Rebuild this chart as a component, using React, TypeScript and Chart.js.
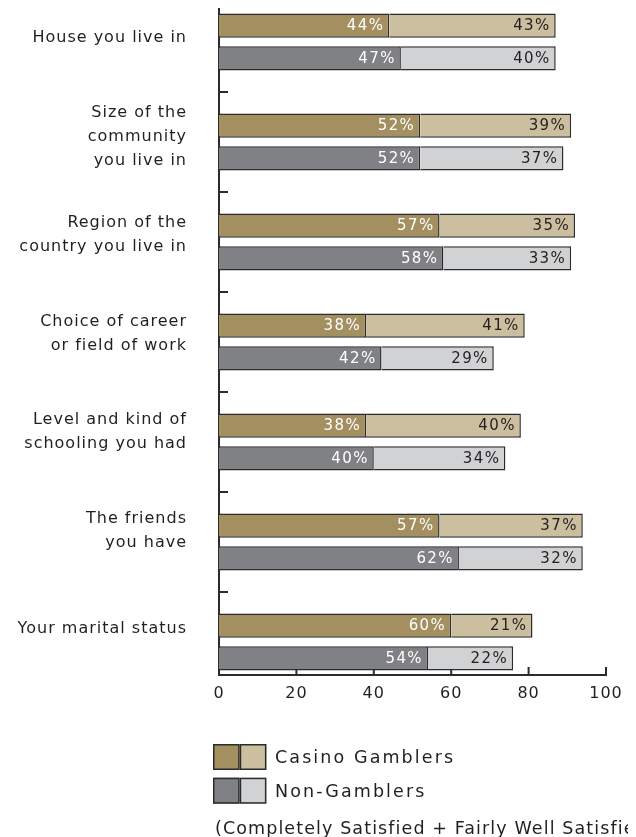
import React, { useEffect, useRef } from "react";
import { Chart, registerables } from "chart.js";

Chart.register(...registerables);

// ---------- data ----------
const CATEGORIES: string[][] = [
  ["House you live in"],
  ["Size of the", "community", "you live in"],
  ["Region of the", "country you live in"],
  ["Choice of career", "or field of work"],
  ["Level and kind of", "schooling you had"],
  ["The friends", "you have"],
  ["Your marital status"],
];
const CASINO_COMPLETELY = [44, 52, 57, 38, 38, 57, 60];
const CASINO_FAIRLY = [43, 39, 35, 41, 40, 37, 21];
const NON_COMPLETELY = [47, 52, 58, 42, 40, 62, 54];
const NON_FAIRLY = [40, 37, 33, 29, 34, 32, 22];
const X_TICKS = [0, 20, 40, 60, 80, 100];
const SERIES_NAMES = ["Casino Gamblers", "Non-Gamblers"];
const CAPTION = "(Completely Satisfied + Fairly Well Satisfied)";

// ---------- styles ----------
const FONT = '"DejaVu Sans", "Liberation Sans", Arial, sans-serif';
const TEXT = "#231f20";
const EDGE = "#2b2b2b";
const CASINO_DARK = "#a38f60";
const CASINO_LIGHT = "#cbbf9f";
const NON_DARK = "#808184";
const NON_LIGHT = "#d1d2d4";

export default function App() {
  const ref = useRef<HTMLCanvasElement>(null);

  useEffect(() => {
    const canvas = ref.current;
    if (!canvas) return;

    const mk = (label: string, values: number[], stack: string, bg: string, textColor: string) => ({
      label,
      stack,
      values,
      textColor,
      data: values.map((v, i) => ({ x: v, y: i })),
      backgroundColor: bg,
      borderColor: EDGE,
      borderWidth: 1.5,
      borderSkipped: "start",
      categoryPercentage: 0.667,
      barPercentage: 0.735,
    });

    const labelPos = CATEGORIES.map((_, i) => i * 0.985 - 0.04);

    const spacingPlugin = {
      id: "spacing",
      beforeDraw(chart: any) {
        chart.ctx.letterSpacing = "1px";
      },
    };

    const innerTicks = {
      id: "innerTicks",
      beforeDatasetsDraw(chart: any) {
        const ctx = chart.ctx;
        const { left, bottom } = chart.chartArea;
        const xs = chart.scales.x;
        const ys = chart.scales.y;
        ctx.save();
        ctx.strokeStyle = EDGE;
        ctx.lineWidth = 2;
        X_TICKS.forEach((t) => {
          const px = xs.getPixelForValue(t);
          ctx.beginPath();
          ctx.moveTo(px, bottom);
          ctx.lineTo(px, bottom - 8);
          ctx.stroke();
        });
        for (let i = 0; i < CATEGORIES.length - 1; i++) {
          const py = Math.round(ys.getPixelForValue(i + 0.5));
          ctx.beginPath();
          ctx.moveTo(left, py);
          ctx.lineTo(left + 9, py);
          ctx.stroke();
        }
        ctx.restore();
      },
    };

    const valueLabels = {
      id: "valueLabels",
      afterDatasetsDraw(chart: any) {
        const ctx = chart.ctx;
        ctx.save();
        ctx.font = `15px ${FONT}`;
        ctx.letterSpacing = "1.4px";
        ctx.textAlign = "right";
        ctx.textBaseline = "middle";
        chart.data.datasets.forEach((ds: any, di: number) => {
          const meta = chart.getDatasetMeta(di);
          meta.data.forEach((el: any, i: number) => {
            const p = el.getProps(["x", "y"], true);
            ctx.fillStyle = ds.textColor;
            ctx.fillText(`${ds.values[i]}%`, p.x - 5, p.y + 1);
          });
        });
        ctx.restore();
      },
    };

    const legendPlugin = {
      id: "customLegend",
      afterDraw(chart: any) {
        const ctx = chart.ctx;
        const { left, bottom } = chart.chartArea;
        const bx = left - 6;
        const rows = [
          { name: SERIES_NAMES[0], colors: [CASINO_DARK, CASINO_LIGHT], top: bottom + 69 },
          { name: SERIES_NAMES[1], colors: [NON_DARK, NON_LIGHT], top: bottom + 102.7 },
        ];
        ctx.save();
        ctx.font = `17.5px ${FONT}`;
        ctx.letterSpacing = "2.1px";
        ctx.textAlign = "left";
        ctx.textBaseline = "alphabetic";
        rows.forEach((r) => {
          r.colors.forEach((c, k) => {
            const x0 = bx + k * 26.7;
            ctx.fillStyle = c;
            ctx.fillRect(x0, r.top, 26.7, 26);
            ctx.strokeStyle = EDGE;
            ctx.lineWidth = 1.5;
            ctx.strokeRect(x0 + 0.75, r.top + 0.75, 26.7 - 1.5, 26 - 1.5);
          });
          ctx.fillStyle = TEXT;
          ctx.fillText(r.name, bx + 62, r.top + 19.3);
        });
        ctx.letterSpacing = "1.1px";
        ctx.fillText(CAPTION, bx + 2, bottom + 159);
        ctx.restore();
      },
    };

    const chart = new Chart(canvas, {
      type: "bar",
      data: {
        datasets: [
          mk("Casino Gamblers (Completely)", CASINO_COMPLETELY, "casino", CASINO_DARK, "#ffffff"),
          mk("Casino Gamblers (Fairly Well)", CASINO_FAIRLY, "casino", CASINO_LIGHT, TEXT),
          mk("Non-Gamblers (Completely)", NON_COMPLETELY, "non", NON_DARK, "#ffffff"),
          mk("Non-Gamblers (Fairly Well)", NON_FAIRLY, "non", NON_LIGHT, TEXT),
        ] as any,
      },
      options: {
        indexAxis: "y",
        responsive: false,
        animation: false,
        devicePixelRatio: 1,
        layout: { padding: { top: 0, right: 30, bottom: 0, left: 0 } },
        plugins: {
          legend: { display: false },
          tooltip: { enabled: false },
          title: { display: false },
        },
        scales: {
          x: {
            type: "linear",
            stacked: true,
            min: 0,
            max: 100,
            offset: false,
            grid: { display: false, drawTicks: false, tickLength: 0 },
            border: { display: true, color: EDGE, width: 2 },
            ticks: {
              stepSize: 20,
              padding: 9,
              color: TEXT,
              font: { family: FONT, size: 16, lineHeight: 1.2 },
            },
            afterBuildTicks(scale: any) {
              scale.ticks = X_TICKS.map((v) => ({ value: v }));
            },
            afterFit(scale: any) {
              scale.height = 162;
              scale.paddingLeft = 0;
              scale.paddingRight = 0;
            },
          },
          y: {
            type: "linear",
            reverse: true,
            min: -0.34,
            max: 6.33,
            offset: false,
            bounds: "data",
            z: 1,
            grid: { display: false, drawTicks: false, tickLength: 0, offset: false },
            border: { display: true, color: EDGE, width: 2 },
            ticks: {
              autoSkip: false,
              padding: 32,
              color: TEXT,
              font: { family: FONT, size: 16, lineHeight: 1.5 },
              callback: (_v: any, i: number) => CATEGORIES[i],
            },
            afterBuildTicks(scale: any) {
              scale.ticks = labelPos.map((v) => ({ value: v }));
            },
            afterFit(scale: any) {
              scale.width = 211;
              scale.paddingTop = 0;
              scale.paddingBottom = 0;
            },
          },
        },
      } as any,
      plugins: [spacingPlugin, innerTicks, valueLabels, legendPlugin],
    });

    return () => chart.destroy();
  }, []);

  return (
    <div style={{ width: 628, height: 829 }}>
      <canvas ref={ref} width={628} height={829} style={{ display: "block" }} />
    </div>
  );
}
